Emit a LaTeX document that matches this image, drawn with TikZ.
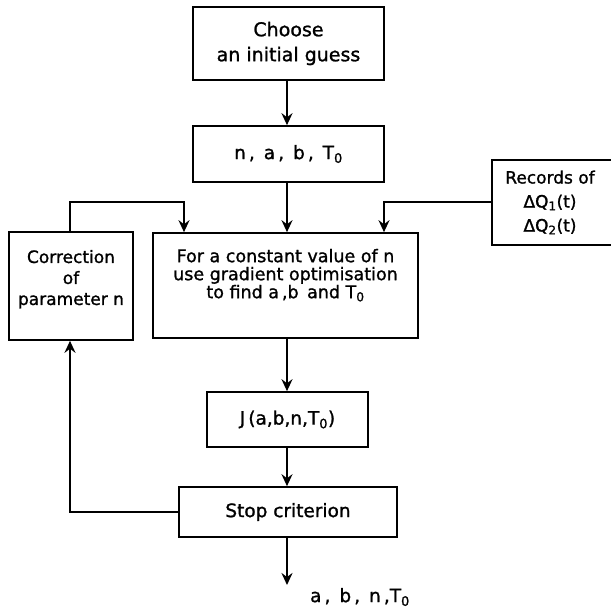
\documentclass[tikz,border=0pt]{standalone}
\usepackage{fontspec}
\setmainfont{DejaVu Sans}[FakeBold=1.2]
\usetikzlibrary{arrows.meta}
\begin{document}
\begin{tikzpicture}[x=1pt,y=-1pt,
  box/.style={draw,line width=1.6pt,inner sep=0pt,align=center,font=\fontsize{18.5}{20}\selectfont},
  txt/.style={inner sep=0pt,align=center,font=\fontsize{18.5}{20}\selectfont},
  conn/.style={line width=2.3pt,-{Stealth[length=12pt,width=11pt,inset=4pt]}}]
\useasboundingbox (0,0) rectangle (610,615);
\node[box,minimum width=191pt,minimum height=73pt,font=\fontsize{19}{25}\selectfont] (choose) at (288.5,43.5) {Choose\\an initial guess};
\node[box,minimum width=191pt,minimum height=56pt] (params) at (288.5,154) {n\,,\, a\,,\, b\,,\, T\textsubscript{0}};
\node[box,minimum width=265pt,minimum height=105pt,font=\fontsize{17.5}{18}\selectfont] (big) at (285.5,285.5) {For a constant value of n\\use gradient optimisation\\to find a\,,b\, and T\textsubscript{0}\\[6pt]};
\node[box,minimum width=124pt,minimum height=108pt,font=\fontsize{17}{21}\selectfont] (corr) at (71,286) {Correction\\of\\parameter n\\[-4pt]};
\node[box,minimum width=136pt,minimum height=85pt,font=\fontsize{17}{24}\selectfont] (rec) at (560,202.5) {\hspace*{-20pt}Records of\\\hspace*{-20pt}ΔQ\textsubscript{1}(t)\\\hspace*{-20pt}ΔQ\textsubscript{2}(t)};
\node[box,minimum width=161pt,minimum height=55pt] (J) at (287.5,419.5) {J\,(a,b,n,T\textsubscript{0})};
\node[box,minimum width=218pt,minimum height=50pt] (stop) at (288,512) {Stop criterion};
\node[txt] (out) at (360,597) {a\,,\, b\,,\, n\,,T\textsubscript{0}};
\coordinate (outend) at (287,585);
\draw[conn] (choose.south -| 287,0) -- (params.north -| 287,0);
\draw[conn] (params.south -| 287,0) -- (big.north -| 287,0);
\draw[conn] (corr.north -| 70,0) |- (184,202) -- (big.north -| 184,0);
\draw[conn] (rec.west |- 0,202) -| (big.north -| 384,0);
\draw[conn] (big.south -| 287,0) -- (J.north -| 287,0);
\draw[conn] (J.south -| 287,0) -- (stop.north -| 287,0);
\draw[conn] (stop.south -| 287,0) -- (outend);
\draw[conn] (stop.west) -| (corr.south -| 70,0);
\end{tikzpicture}
\end{document}
